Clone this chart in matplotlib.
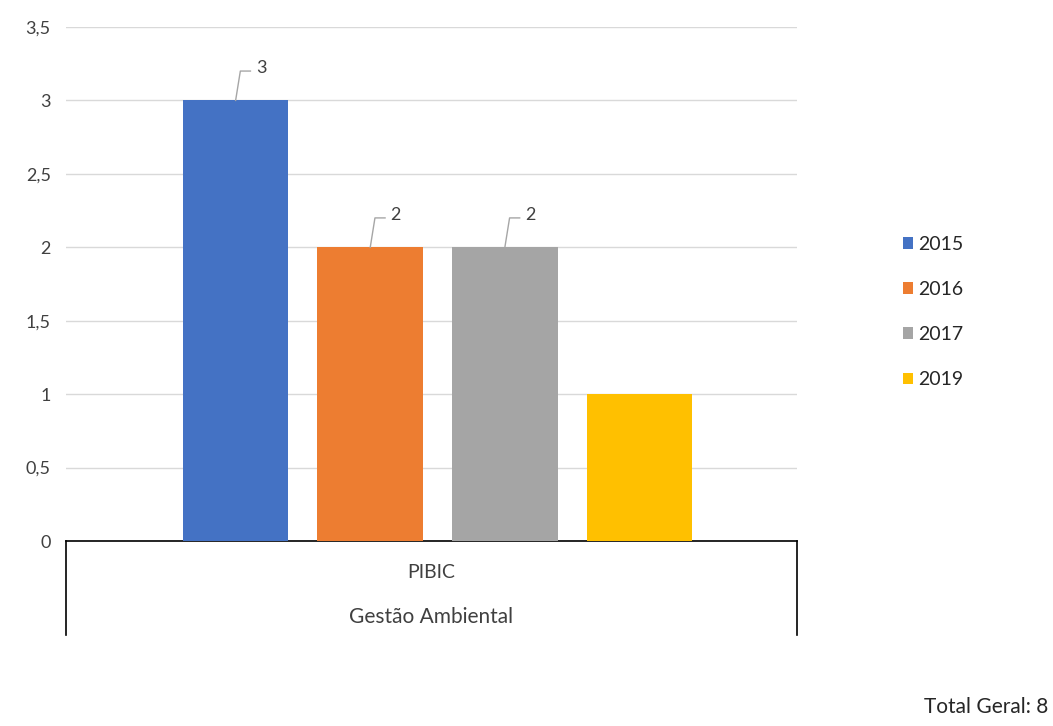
import matplotlib
matplotlib.use("Agg")
import matplotlib.pyplot as plt

# dados do gráfico
anos = ["2015", "2016", "2017", "2019"]
valores = [3, 2, 2, 1]
rotulos = ["3", "2", "2", None]  # 2019 sem rótulo de dados
cores = ["#4472C4", "#ED7D31", "#A5A5A5", "#FFC000"]
categoria = "PIBIC"
grupo = "Gestão Ambiental"
total = sum(valores)
yticks = [0, 0.5, 1, 1.5, 2, 2.5, 3, 3.5]

plt.rcParams['font.family'] = ['Lato', 'DejaVu Sans']

W, H = 1053, 726
fig = plt.figure(figsize=(W / 100, H / 100), dpi=100)
ax = fig.add_axes([66 / W, 1 - 541 / H, (797 - 66) / W, (541 - 27) / H])

for i, (ano, v, c) in enumerate(zip(anos, valores, cores)):
    ax.bar(i, v, width=0.785, color=c, label=ano, zorder=3)

# rótulos com linha de chamada
for i, (v, r) in enumerate(zip(valores, rotulos)):
    if r is None:
        continue
    dy = 0.2
    ax.plot([i, i + 0.035, i + 0.11], [v, v + dy, v + dy],
            color="#A6A6A6", lw=1, zorder=4, clip_on=False)
    ax.text(i + 0.15, v + dy + 0.02, r, fontsize=13, color="#404040",
            ha="left", va="center")

ax.set_xlim(-1.26, 4.17)
ax.set_ylim(0, 3.5)
ax.set_yticks(yticks)
ax.set_yticklabels([f"{t:g}".replace(".", ",") for t in yticks],
                   fontsize=13, color="#404040")
ax.tick_params(axis="y", length=0, pad=11)
ax.set_xticks([])
ax.grid(axis="y", color="#D9D9D9", lw=1, zorder=0)
for s in ["top", "right", "left"]:
    ax.spines[s].set_visible(False)
ax.spines["bottom"].set_color("black")
ax.spines["bottom"].set_linewidth(1.2)

# caixa de categorias abaixo do eixo
box_h = (635 - 541) / (541 - 27)
ax.plot([0, 0], [0, -box_h], transform=ax.transAxes, color="black", lw=1.2, clip_on=False)
ax.plot([1, 1], [0, -box_h], transform=ax.transAxes, color="black", lw=1.2, clip_on=False)
ax.text(0.5, -(572 - 541) / (541 - 27), categoria, transform=ax.transAxes,
        ha="center", va="center", fontsize=14, color="#404040")
ax.text(0.5, -(617 - 541) / (541 - 27), grupo, transform=ax.transAxes,
        ha="center", va="center", fontsize=15, color="#404040")

leg = fig.legend(loc="center left", bbox_to_anchor=(885 / W, 1 - 312 / H),
                 frameon=False, fontsize=14, handlelength=0.55, handleheight=0.55,
                 handletextpad=0.25, labelspacing=1.45)
for t in leg.get_texts():
    t.set_color("#262626")

fig.text(1048 / W, 1 - 707 / H, f"Total Geral: {total}", ha="right", va="center",
         fontsize=15, color="#262626")

fig.savefig("out.png", dpi=100)
